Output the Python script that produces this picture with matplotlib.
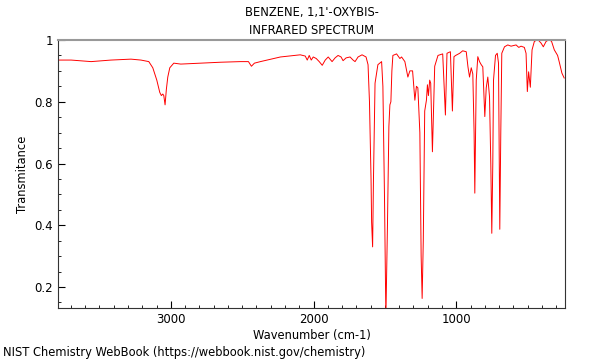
import numpy as np
import matplotlib
matplotlib.use('Agg')
import matplotlib.pyplot as plt
from matplotlib.ticker import MultipleLocator, FormatStrFormatter

## spectrum points
wavenumber = [3786, 3698, 3558, 3419, 3279, 3209, 3154, 3126, 3098, 3077, 3066, 3056,
              3049, 3040, 3031, 3021, 3007, 2979, 2930, 2791, 2651, 2512, 2456, 2435,
              2414, 2372, 2232, 2093, 2058, 2044, 2030, 2016, 2002, 1981, 1960, 1939,
              1918, 1897, 1870, 1849, 1828, 1807, 1793, 1772, 1744, 1723, 1709, 1688,
              1660, 1632, 1618, 1608, 1597, 1593, 1586, 1580, 1569, 1549, 1523, 1514,
              1503, 1493, 1482, 1472, 1465, 1458, 1451, 1444, 1418, 1395, 1383, 1360,
              1339, 1325, 1306, 1297, 1290, 1279, 1269, 1255, 1246, 1239, 1231, 1221,
              1209, 1202, 1195, 1186, 1179, 1167, 1151, 1128, 1095, 1076, 1065, 1041,
              1027, 1016, 1004, 976, 955, 930, 918, 907, 895, 884, 875, 870, 860, 849,
              837, 825, 814, 800, 790, 779, 767, 758, 751, 744, 739, 725, 713, 704,
              695, 688, 681, 662, 639, 616, 581, 562, 546, 523, 511, 502, 493, 481,
              469, 453, 430, 406, 390, 371, 348, 332, 313, 290, 279, 260, 244]
transmittance = [0.935, 0.935, 0.930, 0.935, 0.938, 0.935, 0.930, 0.910, 0.870, 0.830, 0.820, 0.825,
                 0.820, 0.790, 0.840, 0.880, 0.910, 0.925, 0.922, 0.925, 0.928, 0.930, 0.930, 0.915,
                 0.925, 0.930, 0.945, 0.952, 0.948, 0.935, 0.950, 0.935, 0.945, 0.940, 0.930, 0.918,
                 0.935, 0.945, 0.930, 0.942, 0.950, 0.945, 0.933, 0.942, 0.945, 0.935, 0.930, 0.945,
                 0.952, 0.945, 0.920, 0.800, 0.550, 0.410, 0.330, 0.550, 0.860, 0.920, 0.930, 0.850,
                 0.500, 0.100, 0.400, 0.720, 0.790, 0.800, 0.900, 0.950, 0.955, 0.940, 0.945, 0.930,
                 0.880, 0.900, 0.900, 0.845, 0.805, 0.850, 0.845, 0.700, 0.300, 0.163, 0.350, 0.770,
                 0.805, 0.855, 0.820, 0.870, 0.860, 0.638, 0.915, 0.950, 0.955, 0.757, 0.957, 0.962,
                 0.770, 0.946, 0.950, 0.957, 0.965, 0.962, 0.913, 0.880, 0.910, 0.890, 0.700, 0.504, 0.870, 0.946,
                 0.930, 0.920, 0.913, 0.752, 0.845, 0.880, 0.816, 0.600, 0.374, 0.600, 0.870, 0.950, 0.957, 0.925,
                 0.387, 0.700, 0.957, 0.978, 0.984, 0.980, 0.984, 0.976, 0.980, 0.976, 0.957, 0.833, 0.897, 0.847,
                 0.968, 0.995, 1.002, 0.990, 0.978, 0.995, 1.002, 0.995, 0.968, 0.950, 0.930, 0.893, 0.877]

fig = plt.figure(figsize=(6, 3.6), dpi=100)
ax = fig.add_axes([0.0967, 0.1444, 0.845, 0.7445])

ax.plot(wavenumber, transmittance, color='red', linewidth=0.7)

ax.set_xlim(3790, 238)
ax.set_ylim(0.132, 1.0)
ax.xaxis.set_major_locator(MultipleLocator(1000))
ax.xaxis.set_minor_locator(MultipleLocator(100))
ax.yaxis.set_major_locator(MultipleLocator(0.2))
ax.yaxis.set_minor_locator(MultipleLocator(0.05))
ax.yaxis.set_major_formatter(FormatStrFormatter('%g'))
ax.tick_params(which='both', direction='in', labelsize=8.5)
ax.tick_params(which='major', length=5)
ax.tick_params(which='minor', length=2.5)

for s in ['left', 'bottom', 'right']:
    ax.spines[s].set_color('#333333')
ax.spines['top'].set_color('#999999')
ax.spines['top'].set_linewidth(1.5)

ax.set_xlabel('Wavenumber (cm-1)', fontsize=8.3, labelpad=2)
ax.set_ylabel('Transmitance', fontsize=8.3)
ax.set_title("BENZENE, 1,1'-OXYBIS-\nINFRARED SPECTRUM", fontsize=8.3, pad=4, linespacing=1.5)
fig.text(0.005, 0.012, 'NIST Chemistry WebBook (https://webbook.nist.gov/chemistry)', fontsize=8.3)

plt.savefig('out.png')
